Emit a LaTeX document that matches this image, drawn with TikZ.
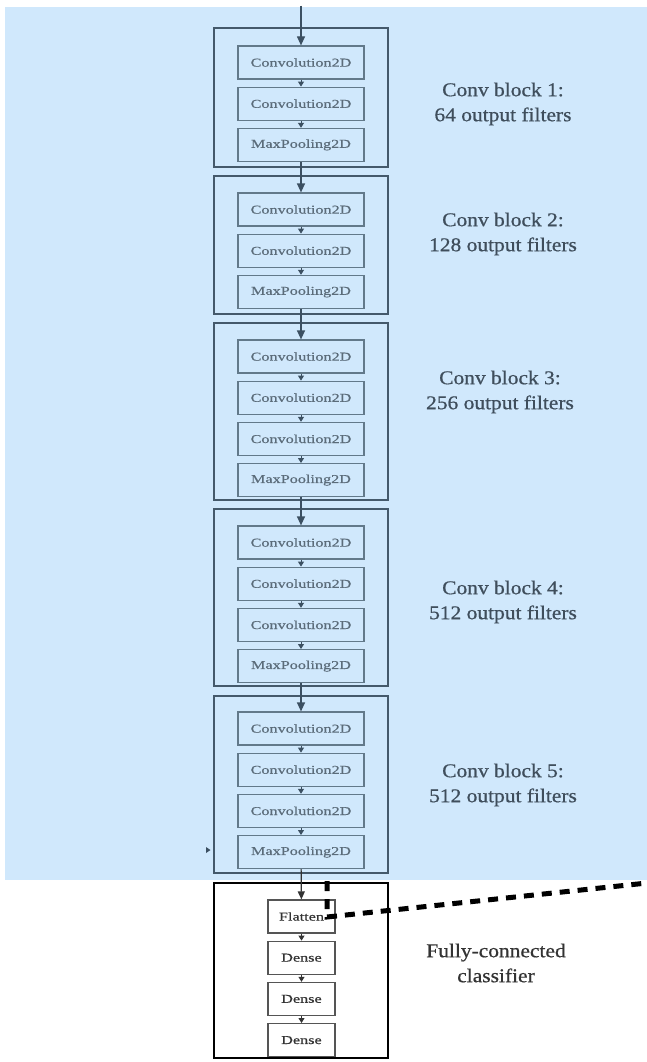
\documentclass[tikz,border=0pt]{standalone}
\usepackage{fontspec}
\setmainfont{Liberation Serif}
\newfontfamily\boxfont[FakeStretch=1.35, FakeBold=0.6]{Liberation Serif}
\newfontfamily\labelfont[FakeStretch=1.1, FakeBold=0.7]{Liberation Serif}
\usepackage{xcolor}
\usetikzlibrary{positioning}
\usetikzlibrary{arrows.meta}

\definecolor{bgblue}{HTML}{D0E8FC}
\definecolor{blockframe}{HTML}{44596B}
\definecolor{layerframe}{HTML}{62798A}
\definecolor{layertext}{HTML}{5B6C7A}
\definecolor{labeltext}{HTML}{3F4E5C}
\definecolor{arrowcol}{HTML}{3C5062}
\definecolor{fcframe}{HTML}{555555}
\definecolor{fctext}{HTML}{333333}

\begin{document}
\begin{tikzpicture}[
		x=1pt, y=-1pt,
		node distance=7pt,
		layer/.style={rectangle, draw=layerframe, line width=1.2pt, minimum width=126pt, minimum height=33pt, inner sep=0pt, font=\boxfont\fontsize{12}{14}\selectfont, text=layertext},
		fclayer/.style={layer, draw=fcframe, text=fctext, fill=white, minimum width=67pt},
		convblock/.style={rectangle, draw=blockframe, line width=2.2pt, minimum width=174pt, inner sep=0pt},
		fcblock/.style={convblock, draw=black, fill=white},
		blocklabel/.style={align=center, font=\labelfont\fontsize{19.5}{25}\selectfont, text=labeltext},
		minor/.style={-{Triangle[width=6pt,length=5pt]}, line width=1pt, draw=arrowcol, fill=arrowcol},
		major/.style={-{Triangle[width=8pt,length=9pt]}, line width=1.2pt, draw=arrowcol, fill=arrowcol},
		fcarrow/.style={-{Triangle[width=7pt,length=8pt]}, line width=1.2pt, draw=black!80, fill=black!80},
		zoomline/.style={line width=5pt, dash pattern=on 10pt off 8pt, black}
		]
		
		\useasboundingbox (0,0) rectangle (647,1062);
		\fill[bgblue] (5,7) rectangle (647,880);
		
		% Outer frames
		\node[convblock, minimum height=139pt] (b1) at (301,97.5) {};
		\node[convblock, minimum height=138pt] (b2) at (301,245) {};
		\node[convblock, minimum height=177pt] (b3) at (301,411.5) {};
		\node[convblock, minimum height=177pt] (b4) at (301,597.5) {};
		\node[convblock, minimum height=177pt] (b5) at (301,784.5) {};
		\node[fcblock, minimum height=175pt] (b6) at (301,970.5) {};
		
		% Conv block 1
		\node[layer] (c11) at (301,62.5) {Convolution2D};
		\node[layer, below=of c11] (c12) {Convolution2D};
		\node[layer, below=of c12] (m1) {MaxPooling2D};
		
		% Conv block 2
		\node[layer] (c21) at (301,209.5) {Convolution2D};
		\node[layer, below=of c21] (c22) {Convolution2D};
		\node[layer, below=of c22] (m2) {MaxPooling2D};
		
		% Conv block 3
		\node[layer] (c31) at (301,356.5) {Convolution2D};
		\node[layer, below=of c31] (c32) {Convolution2D};
		\node[layer, below=of c32] (c33) {Convolution2D};
		\node[layer, below=of c33] (m3) {MaxPooling2D};
		
		% Conv block 4
		\node[layer] (c41) at (301,542.5) {Convolution2D};
		\node[layer, below=of c41] (c42) {Convolution2D};
		\node[layer, below=of c42] (c43) {Convolution2D};
		\node[layer, below=of c43] (m4) {MaxPooling2D};
		
		% Conv block 5
		\node[layer] (c51) at (301,728.5) {Convolution2D};
		\node[layer, below=of c51] (c52) {Convolution2D};
		\node[layer, below=of c52] (c53) {Convolution2D};
		\node[layer, below=of c53] (m5) {MaxPooling2D};
		
		% Classifier
		\node[fclayer] (fl) at (301.5,916.5) {Flatten};
		\node[fclayer, below=of fl] (d1) {Dense};
		\node[fclayer, below=of d1] (d2) {Dense};
		\node[fclayer, below=of d2] (d3) {Dense};
		
		% Labels
		\node[blocklabel] (l1) at (503,104) {Conv block 1:\\64 output filters};
		\node[blocklabel] (l2) at (503,234) {Conv block 2:\\128 output filters};
		\node[blocklabel] (l3) at (500,392) {Conv block 3:\\256 output filters};
		\node[blocklabel] (l4) at (503,602) {Conv block 4:\\512 output filters};
		\node[blocklabel] (l5) at (503,785) {Conv block 5:\\512 output filters};
		\node[blocklabel, text=black!80] (l6) at (496,963) {Fully-connected\\classifier};
		
		% Arrows
		\coordinate (in) at (301,6);
		\draw[major] (in) -- (c11);
		\draw[minor] (c11) -- (c12);
		\draw[minor] (c12) -- (m1);
		\draw[major] (m1) -- (c21);
		\draw[minor] (c21) -- (c22);
		\draw[minor] (c22) -- (m2);
		\draw[major] (m2) -- (c31);
		\draw[minor] (c31) -- (c32);
		\draw[minor] (c32) -- (c33);
		\draw[minor] (c33) -- (m3);
		\draw[major] (m3) -- (c41);
		\draw[minor] (c41) -- (c42);
		\draw[minor] (c42) -- (c43);
		\draw[minor] (c43) -- (m4);
		\draw[major] (m4) -- (c51);
		\draw[minor] (c51) -- (c52);
		\draw[minor] (c52) -- (c53);
		\draw[minor] (c53) -- (m5);
		\draw[fcarrow] (m5) -- (fl);
		\draw[minor, draw=black!80, fill=black!80] (fl) -- (d1);
		\draw[minor, draw=black!80, fill=black!80] (d1) -- (d2);
		\draw[minor, draw=black!80, fill=black!80] (d2) -- (d3);
		
		% Stray tip and zoom line
		\fill[arrowcol] (206,847) -- (210.5,850) -- (206,853) -- cycle;
		\coordinate (z1) at (327,881);
		\coordinate (z2) at (327,917);
		\coordinate (z3) at (647,883);
		\draw[zoomline] (z1) -- (z2) -- (z3);
		
	\end{tikzpicture}
\end{document}
